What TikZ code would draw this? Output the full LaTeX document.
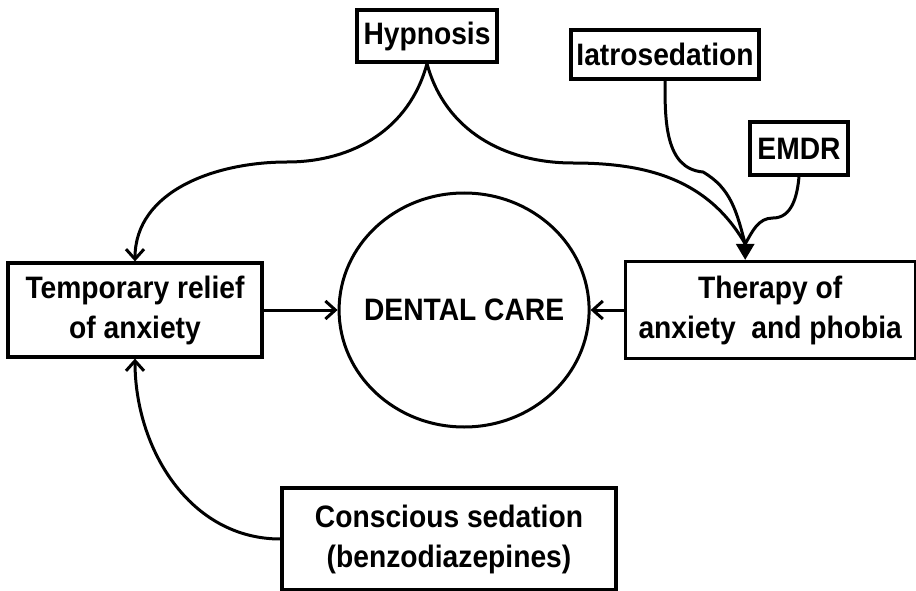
\documentclass[tikz,border=0pt]{standalone}
\usepackage{fontspec}
\setmainfont{Liberation Sans}[FakeStretch=0.91]
\usetikzlibrary{positioning}
\usetikzlibrary{arrows.meta}
\usetikzlibrary{shapes.geometric}

\tikzset{
  box/.style={draw, line width=3.2pt, align=center, inner sep=2pt},
  flow/.style={line width=3pt, -{Straight Barb[length=10pt,width=18pt]}},
  flowin/.style={line width=3pt, -{Triangle[length=16pt,width=18pt]}},
}

\begin{document}
\begin{tikzpicture}[x=1pt, y=1pt, font=\bfseries\fontsize{31}{40}\selectfont]
\useasboundingbox (0,0) rectangle (916,-591);

% Left box
\node[box,
      minimum width=254pt,
      minimum height=94pt
      ] (temp) at (135,-310) {Temporary relief\\of anxiety};

% Dental care
\node[draw, ellipse, line width=3pt,
      inner xsep=-30pt, inner ysep=0pt,
      minimum width=250pt,
      minimum height=234pt,
      right=74pt of temp
      ] (care) {DENTAL CARE};

% Right box
\node[box,
      minimum width=290pt,
      minimum height=97pt,
      right=33pt of care
      ] (ther) {Therapy of\\anxiety\ \ and phobia};

% Top boxes
\node[box, minimum width=140pt, minimum height=52pt] (hyp) at (427,-36) {Hypnosis};
\node[box, minimum width=188pt, minimum height=49pt] (iatro) at (665,-54.5) {Iatrosedation};
\node[box, minimum width=98pt, minimum height=53pt] (emdr) at (799,-148.5) {EMDR};

% Bottom box
\node[box,
      minimum width=334pt,
      minimum height=102pt
      ] (cons) at (449,-539) {Conscious sedation\\(benzodiazepines)};

% Bends
\coordinate (tip) at ([xshift=-25pt,yshift=16pt]ther.north);
\coordinate (hypL) at (287,-162);
\coordinate (hypR) at (573,-163);
\coordinate (iatroB) at (703,-172);
\coordinate (emdrB) at (773,-218);

% Curved arrows
\draw[flow] (hyp.south) to[out=-105,in=0] (hypL) to[out=180,in=90] (temp.north);
\draw[line width=3pt] (hyp.south) to[out=-75,in=180] (hypR) to[out=0,in=120] (tip);
\draw[line width=3pt] (iatro.south) to[out=-90,in=175] (iatroB) to[out=-30,in=105] (tip);
\draw[line width=3pt] (emdr.south) to[out=-95,in=0] (emdrB) to[out=180,in=60] (tip);
\draw[flowin] (tip) -- (tip |- ther.north);
\draw[flow] (cons.west) to[out=180,in=-90] (temp.south);

% Straight arrows
\draw[flow] (temp) -- (care);
\draw[flow] (ther) -- (care);

\end{tikzpicture}
\end{document}
